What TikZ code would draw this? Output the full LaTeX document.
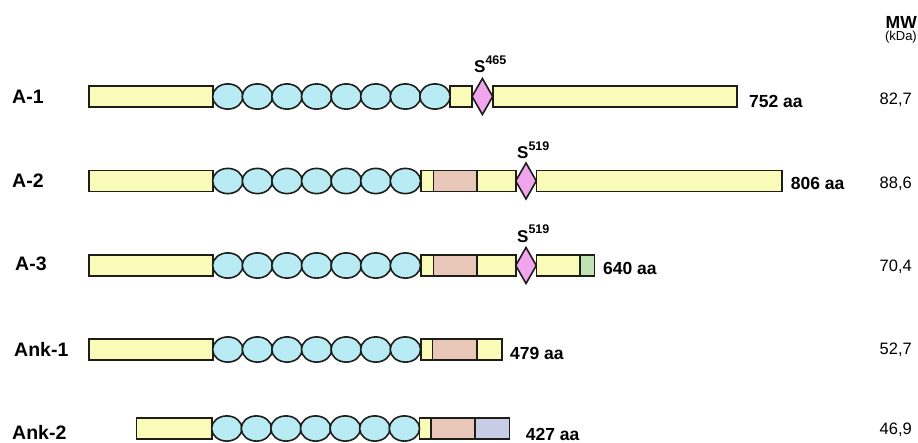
\documentclass[tikz,border=0pt]{standalone}
\usepackage{fontspec}
\setmainfont{Liberation Sans}
\definecolor{edge}{RGB}{30,30,25}
\definecolor{yelfill}{RGB}{250,250,185}
\definecolor{ankfill}{RGB}{185,235,245}
\definecolor{sitefill}{RGB}{240,165,236}
\definecolor{salfill}{RGB}{232,198,184}
\definecolor{grnfill}{RGB}{192,226,180}
\definecolor{lavfill}{RGB}{200,205,230}
\tikzset{
  dom/.style={draw=edge, line width=1.6pt},
  yelbox/.style={dom, fill=yelfill},
  salbox/.style={dom, fill=salfill},
  grnbox/.style={dom, fill=grnfill},
  lavbox/.style={dom, fill=lavfill},
  repeatunit/.style={dom, fill=ankfill},
  sitemark/.style={dom, fill=sitefill},
  rowname/.style={anchor=west, inner sep=0pt, font=\fontsize{19.5}{22}\selectfont\bfseries},
  lenlabel/.style={anchor=west, inner sep=0pt, font=\fontsize{17.5}{20}\selectfont\bfseries},
  mwval/.style={anchor=east, inner sep=0pt, font=\fontsize{16.5}{20}\selectfont},
  sitelabel/.style={anchor=base west, inner sep=0pt, font=\fontsize{17}{18}\selectfont\bfseries},
}
% site label: bold S with a raised residue number
\newcommand{\siteS}[1]{S\raisebox{0.5em}{\fontsize{12.5}{14}\selectfont\bfseries #1}}
% chain of ankyrin-like repeats: #1 = number, #2 = start x, #3 = centre y
\newcommand{\repeatchain}[3]{%
  \foreach \k in {1,...,#1}
    \filldraw[repeatunit] ({#2+14.8+29.6*(\k-1)},#3) ellipse [x radius=15.2pt, y radius=12.6pt];
}
% phosphorylation site: #1 = centre x, #2 = centre y
\newcommand{\sitediamond}[2]{%
  \filldraw[sitemark] (#1,#2-18) -- (#1+10.3,#2) -- (#1,#2+18) -- (#1-10.3,#2) -- cycle;
}
\begin{document}
\begin{tikzpicture}[x=1pt,y=-1pt]
\useasboundingbox (0,0) rectangle (918,442);

% ---------- A-1 ----------
\filldraw[yelbox] (89,86) rectangle (213,107);
\filldraw[yelbox] (450,86) rectangle (472,107);
\filldraw[yelbox] (492.7,86) rectangle (736.7,107);
\repeatchain{8}{213}{96.5}
\sitediamond{482.4}{96.5}

% ---------- A-2 ----------
\filldraw[yelbox] (89,170.5) rectangle (213,191.5);
\filldraw[yelbox] (420.7,170.5) rectangle (433.3,191.5);
\filldraw[salbox] (433.3,170.5) rectangle (476.7,191.5);
\filldraw[yelbox] (476.7,170.5) rectangle (515.7,191.5);
\filldraw[yelbox] (536.3,170.5) rectangle (781.7,191.5);
\repeatchain{7}{213}{181}
\sitediamond{526}{181}

% ---------- A-3 ----------
\filldraw[yelbox] (89,255) rectangle (213,276);
\filldraw[yelbox] (420.7,255) rectangle (433.3,276);
\filldraw[salbox] (433.3,255) rectangle (476.7,276);
\filldraw[yelbox] (476.7,255) rectangle (515.7,276);
\filldraw[yelbox] (536.3,255) rectangle (580,276);
\filldraw[grnbox] (580,255) rectangle (594.3,276);
\repeatchain{7}{213}{265.5}
\sitediamond{526}{265.5}

% ---------- Ank-1 ----------
\filldraw[yelbox] (89,339) rectangle (213,360);
\filldraw[yelbox] (420.7,339) rectangle (432.3,360);
\filldraw[salbox] (432.3,339) rectangle (476.7,360);
\filldraw[yelbox] (476.7,339) rectangle (501.7,360);
\repeatchain{7}{213}{349.5}

% ---------- Ank-2 ----------
\filldraw[yelbox] (136.5,418) rectangle (212,439);
\filldraw[yelbox] (419.5,418) rectangle (431,439);
\filldraw[salbox] (431,418) rectangle (475,439);
\filldraw[lavbox] (475,418) rectangle (509.5,439);
\repeatchain{7}{212}{428.5}

% ---------- isoform names ----------
\node[rowname] (nA1) at (12,96.5) {A-1};
\node[rowname] (nA2) at (12,181) {A-2};
\node[rowname] (nA3) at (15,264) {A-3};
\node[rowname] (nK1) at (14,349) {Ank-1};
\node[rowname] (nK2) at (12,432) {Ank-2};

% ---------- phosphosite labels ----------
\node[sitelabel] (sA1) at (474,72.7) {\siteS{465}};
\node[sitelabel] (sA2) at (517,158.5) {\siteS{519}};
\node[sitelabel] (sA3) at (517,242) {\siteS{519}};

% ---------- lengths ----------
\node[lenlabel] (lA1) at (749,101.7) {752 aa};
\node[lenlabel] (lA2) at (790.7,183) {806 aa};
\node[lenlabel] (lA3) at (603,268) {640 aa};
\node[lenlabel] (lK1) at (510,353) {479 aa};
\node[lenlabel] (lK2) at (525.7,434) {427 aa};

% ---------- molecular weights ----------
\node[anchor=east, inner sep=0pt, font=\fontsize{17.5}{20}\selectfont\bfseries] (mwhead) at (917,22) {MW};
\node[anchor=east, inner sep=0pt, font=\fontsize{13}{15}\selectfont] (mwunit) at (917,37.5) {(kDa)};
\node[mwval] (mA1) at (912,100) {82,7};
\node[mwval] (mA2) at (912,184) {88,6};
\node[mwval] (mA3) at (912,267) {70,4};
\node[mwval] (mK1) at (912,350) {52,7};
\node[mwval] (mK2) at (912,430) {46,9};
\end{tikzpicture}
\end{document}
